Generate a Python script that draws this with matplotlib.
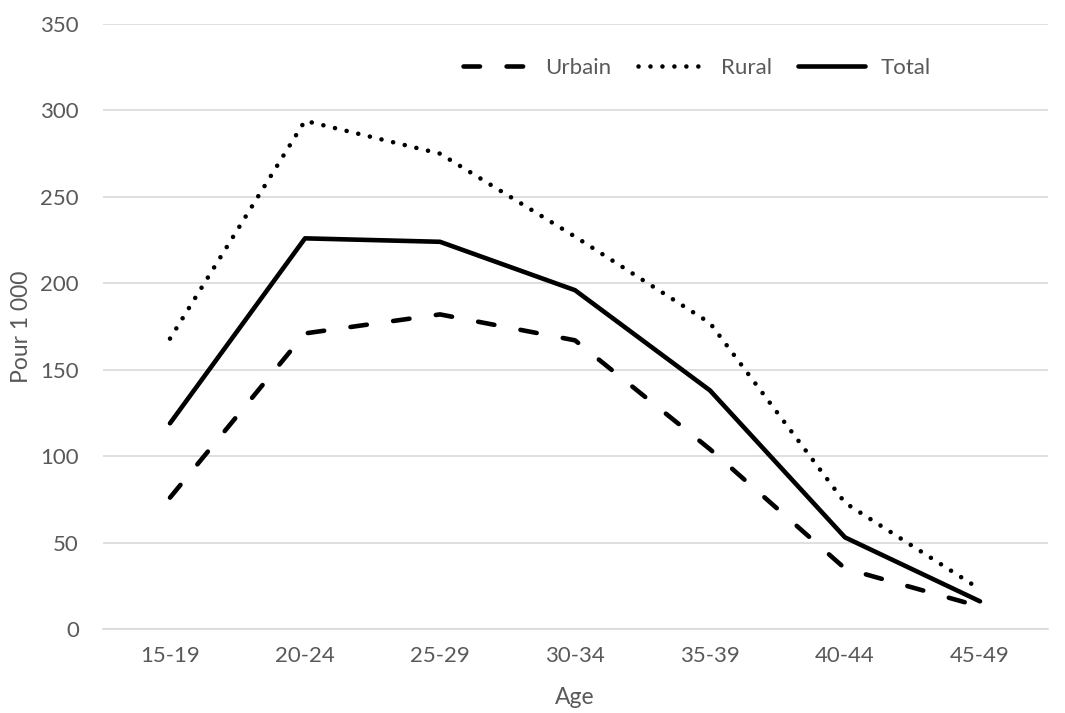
import matplotlib
matplotlib.use("Agg")
import matplotlib.pyplot as plt

# Age-specific fertility rates (per 1000) by place of residence
age_groups = ["15-19", "20-24", "25-29", "30-34", "35-39", "40-44", "45-49"]
urbain = [76, 171, 182, 167, 104, 35, 13]
rural = [168, 294, 275, 227, 177, 73, 23]
total = [119, 226, 224, 196, 138, 53, 16]

yticks = [0, 50, 100, 150, 200, 250, 300, 350]

plt.rcParams["font.family"] = ["Lato", "DejaVu Sans"]
text_color = "#595959"

fig = plt.figure(figsize=(10.65, 7.13), dpi=100)
ax = fig.add_axes([102.5 / 1065, 1 - 629 / 713, 945 / 1065, 605 / 713])

x = list(range(len(age_groups)))
ax.plot(x, urbain, color="black", lw=3.3, dash_capstyle="round",
        linestyle=(0, (3.6, 5.8)), label="Urbain")
ax.plot(x, rural, color="black", lw=3.3, dash_capstyle="round",
        linestyle=(0, (0.01, 2.6)), label="Rural")
ax.plot(x, total, color="black", lw=3.3, solid_capstyle="round", label="Total")

ax.set_xlim(-0.5, len(age_groups) - 0.5)
ax.set_ylim(0, 350)
ax.set_yticks(yticks)
ax.set_xticks(x)
ax.set_xticklabels(age_groups)
ax.grid(axis="y", color="#d9d9d9", lw=1.2)
ax.set_axisbelow(True)
for s in ["top", "right", "left"]:
    ax.spines[s].set_visible(False)
ax.spines["bottom"].set_color("#d9d9d9")
ax.spines["bottom"].set_linewidth(1.2)
ax.tick_params(axis="both", length=0, labelsize=16, colors=text_color)
ax.tick_params(axis="x", pad=12)
ax.tick_params(axis="y", pad=17)

ax.set_xlabel("Age", fontsize=16.5, color=text_color, labelpad=15)
ax.set_ylabel("Pour 1 000", fontsize=16.5, color=text_color, labelpad=6)

leg = ax.legend(loc="center", bbox_to_anchor=(0.629, 0.927), ncol=3, frameon=False,
                fontsize=16, handlelength=3.0, columnspacing=1.2, handletextpad=0.7)
for t in leg.get_texts():
    t.set_color(text_color)

fig.savefig("out.png", dpi=100, facecolor="white")
